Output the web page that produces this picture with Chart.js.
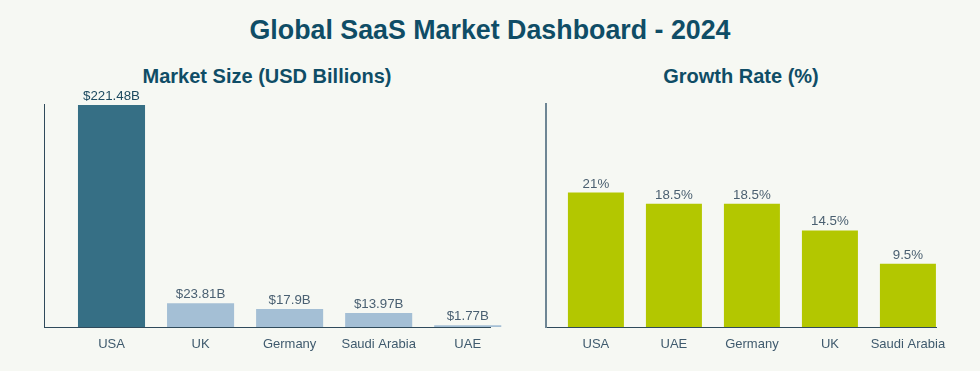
<!DOCTYPE html>
<html>
<head>
<meta charset="utf-8">
<script src="https://cdn.jsdelivr.net/npm/chart.js@4.4.0/dist/chart.umd.min.js"></script>
<style>
  html, body { margin: 0; padding: 0; background: #f6f8f3; }
  body { width: 980px; height: 371px; position: relative; overflow: hidden; font-family: "Liberation Sans", Arial, sans-serif; }
  .title { position: absolute; left: 0; width: 980px; top: 14px; line-height: 32px; text-align: center; font-size: 26.8px; font-weight: bold; color: #0f4d66; }
  .sub { position: absolute; top: 63px; line-height: 26px; text-align: center; font-size: 20px; font-weight: bold; color: #0f4d66; }
  canvas { position: absolute; top: 0; }
</style>
</head>
<body>
<div class="title">Global SaaS Market Dashboard - 2024</div>
<div class="sub" style="left:44px;width:446px">Market Size (USD Billions)</div>
<div class="sub" style="left:546px;width:390px">Growth Rate (%)</div>
<div id="wrapLeft" style="position:absolute;left:0;top:0;width:520px;height:371px"><canvas id="sizeChart"></canvas></div>
<div id="wrapRight" style="position:absolute;left:520px;top:0;width:460px;height:371px"><canvas id="growthChart"></canvas></div>
<script>
// market size
const sizeCountries = ['USA', 'UK', 'Germany', 'Saudi Arabia', 'UAE'];
const sizeValues = [221.48, 23.81, 17.9, 13.97, 1.77];
const sizeLabels = ['$221.48B', '$23.81B', '$17.9B', '$13.97B', '$1.77B'];

// growth rate
const growthCountries = ['USA', 'UAE', 'Germany', 'UK', 'Saudi Arabia'];
const growthValues = [20.2, 18.5, 18.5, 14.5, 9.5];
const growthLabels = ['21%', '18.5%', '18.5%', '14.5%', '9.5%'];

const font = '"Liberation Sans", Arial, sans-serif';

const barLabels = {
    id: 'barLabels',
    afterDatasetsDraw(chart, args, opts) {
        const ctx = chart.ctx;
        const meta = chart.getDatasetMeta(0);
        ctx.save();
        ctx.font = '13.3px ' + font;
        ctx.textAlign = 'center';
        ctx.textBaseline = 'alphabetic';
        meta.data.forEach((bar, i) => {
            ctx.fillStyle = opts.colors[i];
            ctx.fillText(opts.texts[i], bar.x, bar.y - 5);
        });
        ctx.restore();
    }
};

function makeChart(id, cats, vals, texts, cfg) {
    const ctx = document.getElementById(id).getContext('2d');
    return new Chart(ctx, {
        type: 'bar',
        data: {
            datasets: [{
                data: vals.map((v, i) => ({x: i, y: v})),
                backgroundColor: cfg.barColors,
                barPercentage: cfg.barPct,
                categoryPercentage: 1,
                clip: false
            }]
        },
        options: {
            responsive: true,
            maintainAspectRatio: false,
            animation: false,
            layout: {padding: cfg.padding},
            plugins: {
                legend: {display: false},
                tooltip: {enabled: false},
                barLabels: {texts: texts, colors: cfg.labelColors}
            },
            scales: {
                x: {
                    type: 'linear',
                    offset: false,
                    min: cfg.xMin,
                    max: cfg.xMax,
                    grid: {display: false, drawTicks: false},
                    border: {display: true, color: '#2f4a5b', width: 1},
                    afterBuildTicks: s => { s.ticks = cats.map((c, i) => ({value: i})); },
                    afterFit: s => { s.height = 44; },
                    ticks: {
                        padding: 10,
                        autoSkip: false,
                        maxRotation: 0,
                        color: '#3f5a6d',
                        font: {family: font, size: 13},
                        callback: v => cats[v]
                    }
                },
                y: {
                    min: 0,
                    max: cfg.yMax,
                    grid: {display: false, drawTicks: false},
                    border: {display: true, color: cfg.yAxisColor, width: cfg.yAxisWidth},
                    ticks: {display: false},
                    afterFit: s => { s.width = 0; }
                }
            }
        },
        plugins: [barLabels]
    });
}

makeChart('sizeChart', sizeCountries, sizeValues, sizeLabels, {
    barColors: ['#366f85', '#a4bfd5', '#a4bfd5', '#a4bfd5', '#a4bfd5'],
    labelColors: ['#1d4a60', '#4a6072', '#4a6072', '#4a6072', '#4a6072'],
    barPct: 0.753,
    xMin: -0.758,
    xMax: 4.25,
    yMax: 222.5,
    yAxisColor: '#2f4a5b',
    yAxisWidth: 1,
    padding: {left: 44, top: 104, right: 30, bottom: 0}
});

makeChart('growthChart', growthCountries, growthValues, growthLabels, {
    barColors: '#b3c700',
    labelColors: ['#4a5f70', '#4a5f70', '#4a5f70', '#4a5f70', '#4a5f70'],
    barPct: 0.718,
    xMin: -0.64,
    xMax: 4.36,
    yMax: 33.5,
    yAxisColor: '#6e8694',
    yAxisWidth: 2,
    padding: {left: 26, top: 104, right: 44, bottom: 0}
});
</script>
</body>
</html>
